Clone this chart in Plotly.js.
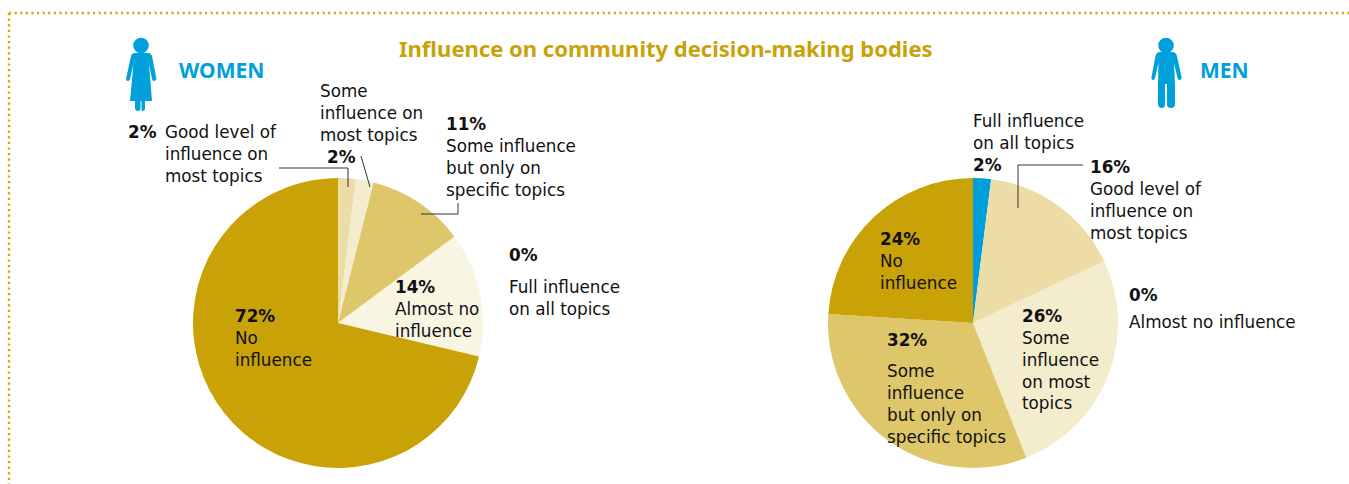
<!DOCTYPE html>
<html>
<head>
<meta charset="utf-8">
<script src="https://cdn.plot.ly/plotly-3.0.1.min.js"></script>
<style>html,body{margin:0;padding:0;background:#fff}#chart{width:1349px;height:484px}</style>
</head>
<body>
<div id="chart"></div>
<script>
// Survey answers, clockwise from twelve o'clock
const categories = ['Full influence on all topics', 'Good level of influence on most topics',
  'Some influence on most topics', 'Some influence but only on specific topics',
  'Almost no influence', 'No influence'];
const womenValues = [0, 2, 2, 11, 14, 72];
const menValues = [2, 16, 26, 32, 0, 24];
const sliceColors = ['#009FDA', '#EBDDA5', '#F3ECCD', '#DEC76B', '#F9F5E3', '#C8A206'];

const W = 1349, H = 484;
const FONT = '"Noto Sans", sans-serif';
const BODY_FONT = '"DejaVu Sans", sans-serif';
const px = x => x / W;
const py = y => 1 - y / H;
// Converts a path written in page pixels to paper fractions
const toPaper = d => d.replace(/(-?[\d.]+) (-?[\d.]+)/g, (m, a, b) => `${px(+a)} ${py(+b)}`);

function pie(values, cx, cy, r) {
  return {
    type: 'pie', labels: categories, values, sort: false, direction: 'clockwise', rotation: 0,
    marker: {colors: sliceColors, line: {width: 0}},
    textinfo: 'none', hoverinfo: 'none', showlegend: false,
    domain: {x: [px(cx - r), px(cx + r)], y: [py(cy + r), py(cy - r)]}
  };
}

const pct = v => `<b>${v}%</b>`;
// One left-aligned text block; x, y give its top-left corner
function label(x, y, lines) {
  return {xref: 'paper', yref: 'paper', x: px(x - 1), y: py(y + 0.5), xanchor: 'left', yanchor: 'top', align: 'left',
    showarrow: false, borderpad: 0, text: lines.join('<br>'), font: {family: BODY_FONT, size: 16.8, color: '#111'}};
}
const heading = (x, text) => ({xref: 'paper', yref: 'paper', x: px(x), y: py(70), xanchor: 'left', yanchor: 'middle',
  showarrow: false, text: `<b>${text}</b>`, font: {family: FONT, size: 21, color: '#00A0DC'}});

const annotations = [
  {xref: 'paper', yref: 'paper', x: px(665.5), y: py(48), xanchor: 'center', yanchor: 'middle', showarrow: false,
    text: '<b>Influence on community decision-making bodies</b>', font: {family: FONT, size: 22, color: '#C8A206'}},
  heading(176.5, 'WOMEN'),
  heading(1197.5, 'MEN'),
  label(128, 120, [pct(womenValues[1])]),
  label(165, 120, ['Good level of', 'influence on', 'most topics']),
  label(320, 80, ['Some', 'influence on', 'most topics']),
  label(327, 146, [pct(womenValues[2])]),
  label(446, 112, [pct(womenValues[3]), 'Some influence', 'but only on', 'specific topics']),
  label(509, 243, [pct(womenValues[0])]),
  label(509, 275, ['Full influence', 'on all topics']),
  label(395, 275, [pct(womenValues[4]), 'Almost no', 'influence']),
  label(235, 304, [pct(womenValues[5]), 'No', 'influence']),
  label(973, 109, ['Full influence', 'on all topics', pct(menValues[0])]),
  label(1090, 155, [pct(menValues[1]), 'Good level of', 'influence on', 'most topics']),
  label(1129, 283, [pct(menValues[4])]),
  label(1129, 310, ['Almost no influence']),
  label(1022, 304, [pct(menValues[2]), 'Some', 'influence', 'on most', 'topics']),
  label(887, 328, [pct(menValues[3])]),
  label(887, 359, ['Some', 'influence', 'but only on', 'specific topics']),
  label(880, 227, [pct(menValues[5]), 'No', 'influence'])
];

const leader = d => ({type: 'path', xref: 'paper', yref: 'paper', path: toPaper(d), line: {color: '#333', width: 1}});
const icon = d => ({type: 'path', xref: 'paper', yref: 'paper', path: toPaper(d), fillcolor: '#00A0DC', line: {width: 0}});
const head = (cx, cy, r) => ({type: 'circle', xref: 'paper', yref: 'paper', x0: px(cx - r), x1: px(cx + r),
  y0: py(cy + r), y1: py(cy - r), fillcolor: '#00A0DC', line: {width: 0}});
const dotted = d => ({type: 'path', xref: 'paper', yref: 'paper', path: toPaper(d),
  line: {color: '#D0A50F', width: 2.4, dash: '2.2px,3.4px'}});

const shapes = [
  dotted('M 9 13 L 1349 13'),
  dotted('M 9 13 L 9 484'),
  leader('M 279 168 L 348 168 L 348 187'),
  leader('M 361 156 L 370 187'),
  leader('M 421 214 L 458 214 L 458 203'),
  leader('M 1083 165 L 1018 165 L 1018 208'),
  head(141, 45.5, 7.8),
  icon('M 135 53 L 148 53 Q 151 53 152 56 L 156.5 79 Q 156 81 154 81 Q 152.500 81 152 79 L 149 64 L 152 101 L 145 101 L 145 108 Q 145 111 142.500 111 Q 141.500 111 141.500 109 L 141.500 101 L 140.500 101 L 140.500 109 Q 140.500 111 138 111 Q 135 111 135 108 L 135 101 L 130 101 L 133.500 64 L 130 79 Q 129.500 81 128 81 Q 126 81 126 79 L 131 56 Q 132 53 135 53 Z'),
  head(1166, 45.5, 7.8),
  icon('M 1160 52 L 1172 52 Q 1176 52 1177 56 L 1181.500 77 Q 1182 80 1179.500 80 Q 1178 80 1177.500 78 L 1174 63 L 1175 84 L 1175 104 Q 1175 108 1171 108 Q 1167 108 1167 104 L 1167 84 L 1165 84 L 1165 104 Q 1165 108 1162 108 Q 1158 108 1158 104 L 1158 84 L 1158.500 63 L 1155 78 Q 1154.500 80 1153 80 Q 1151 80 1151.500 77 L 1155.500 56 Q 1156.500 52 1160 52 Z')
];

Plotly.newPlot('chart', [pie(womenValues, 338, 323, 145), pie(menValues, 973, 323, 145)], {
  width: W, height: H, margin: {l: 0, r: 0, t: 0, b: 0},
  paper_bgcolor: '#fff', plot_bgcolor: '#fff', annotations, shapes
}, {displayModeBar: false, staticPlot: true});
</script>
</body>
</html>
